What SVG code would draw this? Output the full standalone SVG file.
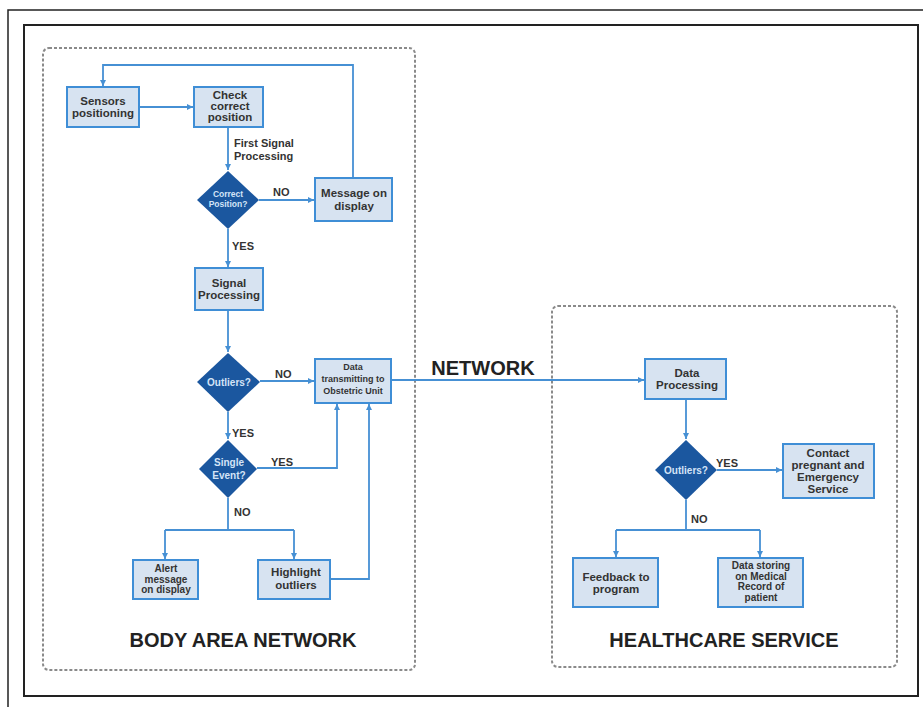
<svg xmlns="http://www.w3.org/2000/svg" width="923" height="707" viewBox="0 0 923 707">
<style>
.box{fill:#d7e3f1;stroke:#3f8ed6;stroke-width:2}
.dia{fill:#1b579f}
.t{font-family:"Liberation Sans",Arial,sans-serif;font-weight:bold;fill:#333;text-anchor:middle}
.tb{font-size:11.5px}
.tm{font-size:10px}
.ts{font-size:9px}
.tw{font-family:"Liberation Sans",Arial,sans-serif;font-weight:bold;fill:#d4e4f7;text-anchor:middle}
.lbl{font-family:"Liberation Sans",Arial,sans-serif;font-weight:bold;fill:#333;font-size:11px}
.big{font-family:"Liberation Sans",Arial,sans-serif;font-weight:bold;fill:#222;font-size:20px;text-anchor:middle}
.c{fill:none;stroke:#4690d4;stroke-width:1.8}
.ca{fill:none;stroke:#4690d4;stroke-width:1.8;marker-end:url(#ah)}
.zone{fill:none;stroke:#8a8a8a;stroke-width:2;stroke-dasharray:3 2}
</style>
<defs>
<marker id="ah" markerUnits="userSpaceOnUse" markerWidth="7" markerHeight="7" refX="6" refY="3" orient="auto">
<path d="M0,0 L6,3 L0,6 z" fill="#4690d4"/>
</marker>
</defs>
<rect width="923" height="707" fill="#fff"/>
<g id="frame">
<path d="M8,707 V10 H923" fill="none" stroke="#222" stroke-width="1.5"/>
<rect x="24" y="25" width="894" height="671" fill="none" stroke="#222" stroke-width="2"/>
</g>
<g id="zones">
<rect class="zone" x="43" y="48" width="372" height="622" rx="6"/>
<rect class="zone" x="552" y="306" width="345" height="361" rx="6"/>
<text class="big" x="243" y="647">BODY AREA NETWORK</text>
<text class="big" x="724" y="647">HEALTHCARE SERVICE</text>
<text class="big" x="483" y="375">NETWORK</text>
</g>
<g id="connectors">
<path class="ca" d="M353,178 V65 H103 V86"/>
<path class="ca" d="M139,107 H193"/>
<path class="ca" d="M228,127 V170"/>
<path class="ca" d="M259,200 H314"/>
<path class="ca" d="M228,229 V267"/>
<path class="ca" d="M228,310 V352"/>
<path class="ca" d="M260,381 H314"/>
<path class="ca" d="M228,412 V439"/>
<path class="ca" d="M257,468 H337 V404"/>
<path class="ca" d="M330,579 H369 V404"/>
<path class="c" d="M228,498 V530 M165,530 H294"/>
<path class="ca" d="M165,530 V559"/>
<path class="ca" d="M294,530 V559"/>
<path class="ca" d="M391,380 H644"/>
<path class="ca" d="M686,399 V439"/>
<path class="ca" d="M717,470 H782"/>
<path class="c" d="M686,500 V530 M616,530 H760"/>
<path class="ca" d="M616,530 V557"/>
<path class="ca" d="M760,530 V557"/>
<text class="lbl" x="234" y="147">First Signal</text>
<text class="lbl" x="234" y="160">Processing</text>
<text class="lbl" x="273" y="196">NO</text>
<text class="lbl" x="232" y="250">YES</text>
<text class="lbl" x="275" y="378">NO</text>
<text class="lbl" x="232" y="437">YES</text>
<text class="lbl" x="271" y="466">YES</text>
<text class="lbl" x="234" y="516">NO</text>
<text class="lbl" x="716" y="467">YES</text>
<text class="lbl" x="691" y="523">NO</text>
</g>
<g id="sensors">
<rect class="box" x="67" y="87" width="72" height="40"/>
<text class="t tb" x="103" y="105">Sensors</text>
<text class="t tb" x="103" y="117">positioning</text>
</g>
<g id="check">
<rect class="box" x="194" y="87" width="69" height="40"/>
<text class="t tb" x="230" y="99">Check</text>
<text class="t tb" x="230" y="110">correct</text>
<text class="t tb" x="230" y="121">position</text>
</g>
<g id="correct-position">
<polygon class="dia" points="228,171 259,200 228,229 197,200"/>
<text class="tw" font-size="8.5" x="228" y="197">Correct</text>
<text class="tw" font-size="8.5" x="228" y="207">Position?</text>
</g>
<g id="message">
<rect class="box" x="315" y="178" width="77" height="43"/>
<text class="t tb" x="354" y="197">Message on</text>
<text class="t tb" x="354" y="210">display</text>
</g>
<g id="signal-processing">
<rect class="box" x="195" y="268" width="68" height="42"/>
<text class="t tb" x="229" y="287">Signal</text>
<text class="t tb" x="229" y="299">Processing</text>
</g>
<g id="outliers1">
<polygon class="dia" points="228,353 260,382 228,412 197,382"/>
<text class="tw" font-size="10" x="229" y="386">Outliers?</text>
</g>
<g id="data-transmitting">
<rect class="box" x="315" y="359" width="76" height="44"/>
<text class="t ts" x="353" y="370">Data</text>
<text class="t ts" x="353" y="382">transmitting to</text>
<text class="t ts" x="353" y="394">Obstetric Unit</text>
</g>
<g id="single-event">
<polygon class="dia" points="228,440 257,469 228,498 199,469"/>
<text class="tw" font-size="10" x="229" y="466">Single</text>
<text class="tw" font-size="10" x="229" y="479">Event?</text>
</g>
<g id="alert">
<rect class="box" x="133" y="560" width="65" height="39"/>
<text class="t tm" x="166" y="572">Alert</text>
<text class="t tm" x="166" y="582.5">message</text>
<text class="t tm" x="166" y="593">on display</text>
</g>
<g id="highlight">
<rect class="box" x="258" y="560" width="72" height="39"/>
<text class="t tb" x="296" y="576">Highlight</text>
<text class="t tb" x="296" y="589">outliers</text>
</g>
<g id="data-processing">
<rect class="box" x="645" y="359" width="81" height="40"/>
<text class="t tb" x="687" y="377">Data</text>
<text class="t tb" x="687" y="389">Processing</text>
</g>
<g id="outliers2">
<polygon class="dia" points="686,440 717,470 686,500 655,470"/>
<text class="tw" font-size="10" x="686" y="474">Outliers?</text>
</g>
<g id="contact">
<rect class="box" x="783" y="444" width="91" height="54"/>
<text class="t tb" x="828" y="457">Contact</text>
<text class="t tb" x="828" y="469">pregnant and</text>
<text class="t tb" x="828" y="481">Emergency</text>
<text class="t tb" x="828" y="493">Service</text>
</g>
<g id="feedback">
<rect class="box" x="573" y="558" width="85" height="49"/>
<text class="t tb" x="616" y="581">Feedback to</text>
<text class="t tb" x="616" y="593">program</text>
</g>
<g id="data-storing">
<rect class="box" x="718" y="558" width="85" height="49"/>
<text class="t tm" x="761" y="569">Data storing</text>
<text class="t tm" x="761" y="579.5">on Medical</text>
<text class="t tm" x="761" y="590">Record of</text>
<text class="t tm" x="761" y="600.5">patient</text>
</g>
</svg>
